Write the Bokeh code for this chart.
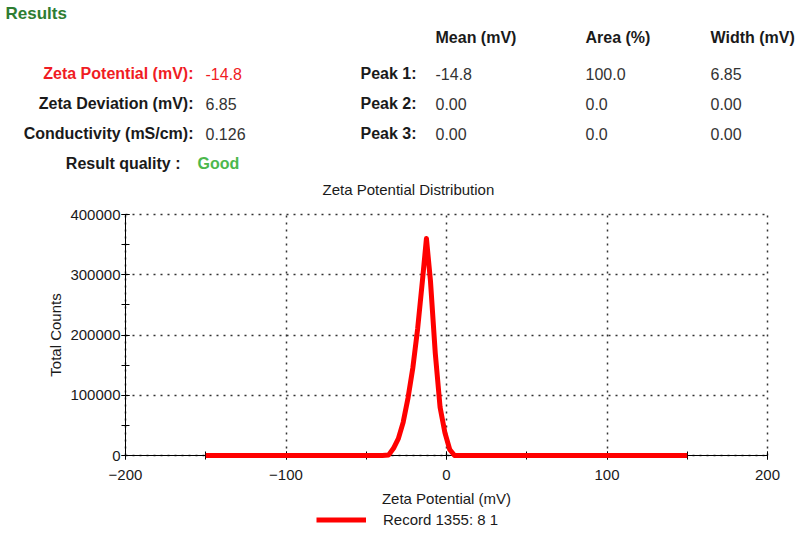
from bokeh.plotting import figure
from bokeh.models import (Range1d, SingleIntervalTicker, BasicTickFormatter, LinearAxis, Grid,
                          Legend, LegendItem, Label)
from bokeh.embed import file_html
from bokeh.resources import INLINE

# ---------------- data ----------------
zeta_mv = [-150, -40, -36, -33, -30, -27, -24, -21, -18, -15, -12.5,
           -10, -7, -4, -1, 2, 5, 8, 150]
total_counts = [0, 0, 1000, 12000, 28000, 55000, 95000, 145000, 210000,
                290000, 360000, 290000, 170000, 80000, 38000, 10000, 0, 0, 0]

x_limits = (-200, 200)
y_limits = (0, 400000)

chart_title = "Zeta Potential Distribution"
x_title = "Zeta Potential (mV)"
y_title = "Total Counts"
record_label = "Record 1355: 8 1"

result_labels = ["Zeta Potential (mV):", "Zeta Deviation (mV):", "Conductivity (mS/cm):"]
result_values = ["-14.8", "6.85", "0.126"]
quality_label = "Result quality :"
quality_value = "Good"

column_headers = ["Mean (mV)", "Area (%)", "Width (mV)"]
peak_names = ["Peak 1:", "Peak 2:", "Peak 3:"]
peak_mean = ["-14.8", "0.00", "0.00"]
peak_area = ["100.0", "0.0", "0.0"]
peak_width = ["6.85", "0.00", "0.00"]

# ---------------- layout / style ----------------
FONT = "Liberation Sans"
DARK = "#1a1a1a"
VAL = "#333333"
RED = "#f01c24"

W, H = 800, 534
# pixel box of the plotting area on the page
AX_LEFT, AX_RIGHT, AX_TOP, AX_BOTTOM = 125, 767, 214, 455

xs = (AX_RIGHT - AX_LEFT) / (x_limits[1] - x_limits[0])
ys = (AX_BOTTOM - AX_TOP) / (y_limits[1] - y_limits[0])
x_range = Range1d(x_limits[0] - AX_LEFT / xs, x_limits[1] + (W - AX_RIGHT) / xs)
y_range = Range1d(y_limits[0] - (H - AX_BOTTOM) / ys, y_limits[1] + AX_TOP / ys)

p = figure(width=W, height=H, x_range=x_range, y_range=y_range,
           x_axis_type=None, y_axis_type=None,
           output_backend="svg", toolbar_location=None, min_border=0)
p.outline_line_color = None

# axes crossing at the chart's lower-left corner
xaxis = LinearAxis(fixed_location=y_limits[0], bounds=x_limits,
                   ticker=SingleIntervalTicker(interval=100, num_minor_ticks=2),
                   axis_label=x_title)
yaxis = LinearAxis(fixed_location=x_limits[0], bounds=y_limits,
                   ticker=SingleIntervalTicker(interval=100000, num_minor_ticks=2),
                   formatter=BasicTickFormatter(use_scientific=False),
                   axis_label=y_title)
p.add_layout(xaxis, "below")
p.add_layout(yaxis, "left")

for ax in (xaxis, yaxis):
    ax.axis_line_color = "black"
    ax.major_tick_line_color = "black"
    ax.minor_tick_line_color = "black"
    ax.major_tick_in = 4
    ax.major_tick_out = 4
    ax.minor_tick_in = 4
    ax.minor_tick_out = 4
    ax.major_label_text_font = FONT
    ax.major_label_text_font_size = "15px"
    ax.major_label_text_color = DARK
    ax.axis_label_text_font = FONT
    ax.axis_label_text_font_size = "15px"
    ax.axis_label_text_font_style = "normal"
    ax.axis_label_text_color = DARK
xaxis.major_label_standoff = 10
xaxis.axis_label_standoff = 7
yaxis.major_label_standoff = 1
yaxis.axis_label_standoff = 3

xgrid = Grid(dimension=0, axis=xaxis, cross_bounds=y_limits)
ygrid = Grid(dimension=1, axis=yaxis, cross_bounds=x_limits)
for g in (xgrid, ygrid):
    g.grid_line_color = "#333333"
    g.grid_line_dash = "2 5"
    g.grid_line_width = 1.5
    p.add_layout(g, "center")

r = p.line(zeta_mv, total_counts, line_width=5, line_color="#ff0000", line_join="round")
r.level = "overlay"


def put(px, py, text, color=DARK, bold=False, align="left", size="16px"):
    """Place a text at page-pixel position (px, py), measured from the top-left."""
    p.add_layout(Label(x=px, y=H - py, x_units="screen", y_units="screen",
                       text=text, text_font=FONT, text_font_size=size,
                       text_font_style="bold" if bold else "normal",
                       text_color=color, text_align=align, text_baseline="middle"))


put(322, 189, chart_title, size="15px")

# ---------------- results header block ----------------
put(5, 13, "Results", color="#2e7d32", bold=True, size="17px")
rows_y = [73, 103, 133]
for py, lab, val, col in zip(rows_y, result_labels, result_values, [RED, DARK, DARK]):
    put(193, py, lab, color=col, bold=True, align="right")
    put(205, py, val, color=RED if col == RED else VAL)
put(180, 163, quality_label, bold=True, align="right")
put(197, 163, quality_value, color="#4cb84c", bold=True)

col_x = [435, 585, 710]
for cx, hdr in zip(col_x, column_headers):
    put(cx, 37, hdr, bold=True)
for py, name in zip(rows_y, peak_names):
    put(360, py, name, bold=True)
for cx, vals in zip(col_x, [peak_mean, peak_area, peak_width]):
    for py, v in zip(rows_y, vals):
        put(cx, py, v, color=VAL)

legend = Legend(items=[LegendItem(label=record_label, renderers=[r])],
                location=(316, H - 520 - 7.5), orientation="horizontal",
                glyph_width=50, glyph_height=15, label_standoff=17, label_height=15,
                padding=0, margin=0, border_line_color=None, background_fill_alpha=0,
                label_text_font=FONT, label_text_font_size="15px",
                label_text_color=DARK)
p.add_layout(legend, "center")

open("out.html", "w").write(file_html(p, INLINE))
